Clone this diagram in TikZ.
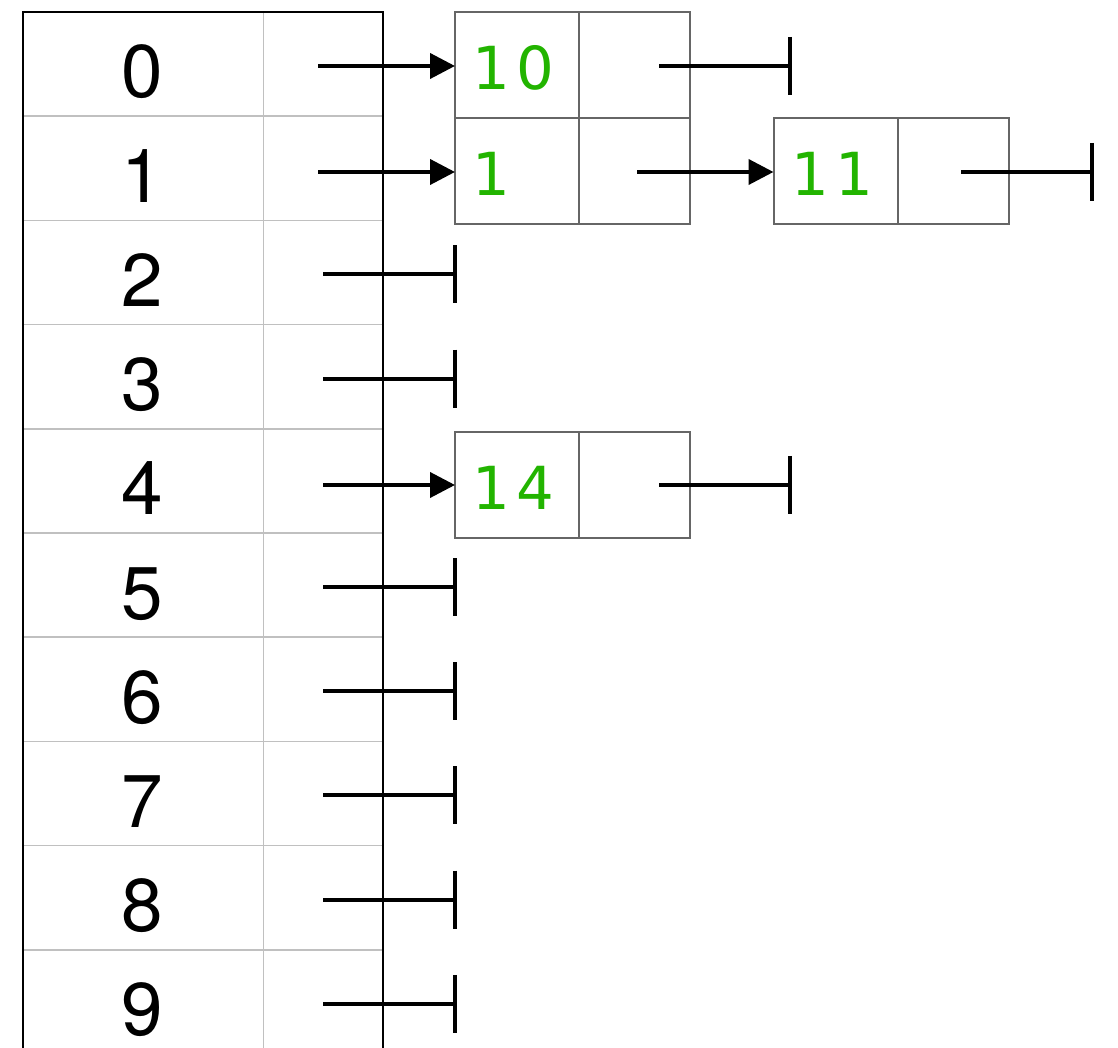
\documentclass[tikz,border=0pt]{standalone}
\usepackage{fontspec}
\setmainfont{TeX Gyre Heros}
\newfontfamily\monofont[LetterSpace=10.5]{DejaVu Sans}
\usetikzlibrary{arrows.meta}
\definecolor{gridgray}{RGB}{192,192,192}
\definecolor{boxgray}{RGB}{102,102,102}
\definecolor{valgreen}{RGB}{34,180,0}
\begin{document}
\begin{tikzpicture}[x=0.75pt,y=-0.75pt,
  idxcell/.style={draw=gridgray,line width=1.1pt,inner sep=0pt,outer sep=0pt,minimum width=180.75pt,minimum height=78.15pt},
  ptrcell/.style={draw=gridgray,line width=1.1pt,inner sep=0pt,outer sep=0pt,minimum width=89.25pt,minimum height=78.15pt},
  outline/.style={draw=black,line width=1.5pt},
  idxlabel/.style={inner sep=0pt,anchor=base,font=\fontsize{56pt}{60pt}\selectfont},
  datacell/.style={draw=boxgray,line width=1.5pt,inner sep=0pt,outer sep=0pt,minimum width=93pt,minimum height=79.5pt},
  nextcell/.style={draw=boxgray,line width=1.5pt,inner sep=0pt,outer sep=0pt,minimum width=83.25pt,minimum height=79.5pt},
  val/.style={inner sep=0pt,anchor=base west,text=valgreen,font=\monofont\fontsize{44.5pt}{48pt}\selectfont},
  ptrarrow/.style={draw=black,line width=3pt,-{Triangle[length=18.75pt,width=18.75pt]}},
  nullp/.style={draw=black,line width=3pt,-{Bar[width=43.5pt]}}
]
\useasboundingbox (0,0) rectangle (1118,1048);
% table
\foreach \i in {0,...,9} {
  \node[idxcell,anchor=north west] (idx\i) at (22.5,{12+104.2*\i}) {};
  \node[ptrcell,anchor=north west] (ptr\i) at (263.5,{12+104.2*\i}) {};
  \node[idxlabel] (lab\i) at (142.5,{98+104.2*\i}) {\i};
}
\draw[outline] (idx9.south west) -- (idx0.north west) -- (ptr0.north east) -- (ptr9.south east);
% list nodes
\node[datacell,anchor=north west] (d10) at (455,12) {};
\node[nextcell,anchor=west] (x10) at (d10.east) {};
\node[val] (v10) at (472,90) {10};
\node[datacell,anchor=north west] (d1) at (455,118.5) {};
\node[nextcell,anchor=west] (x1) at (d1.east) {};
\node[val] (v1) at (472,196) {1};
\node[datacell,anchor=north west] (d11) at (773.5,118.5) {};
\node[nextcell,anchor=west] (x11) at (d11.east) {};
\node[val] (v11) at (791,196) {11};
\node[datacell,anchor=north west] (d14) at (455,432) {};
\node[nextcell,anchor=west] (x14) at (d14.east) {};
\node[val] (v14) at (472,510) {14};
% pointers from table
\coordinate (s0) at (318,66);
\coordinate (s1) at (318,172);
\coordinate (s4) at (323,485);
\draw[ptrarrow] (s0) -- (s0 -| d10.west);
\draw[ptrarrow] (s1) -- (s1 -| d1.west);
\draw[ptrarrow] (s4) -- (s4 -| d14.west);
\foreach \i in {2,3,5,6,7,8,9} {
  \coordinate (s\i) at (323,{66+104.2*\i});
  \coordinate (e\i) at (457,{66+104.2*\i});
  \draw[nullp] (s\i) -- (e\i);
}
% next pointers
\coordinate (q10) at (659,66);
\coordinate (z10) at (792,66);
\draw[nullp] (q10) -- (z10);
\coordinate (q1) at (637,172);
\draw[ptrarrow] (q1) -- (q1 -| d11.west);
\coordinate (q11) at (961,172);
\coordinate (z11) at (1094,172);
\draw[nullp] (q11) -- (z11);
\coordinate (q14) at (659,485);
\coordinate (z14) at (792,485);
\draw[nullp] (q14) -- (z14);
\end{tikzpicture}
\end{document}
